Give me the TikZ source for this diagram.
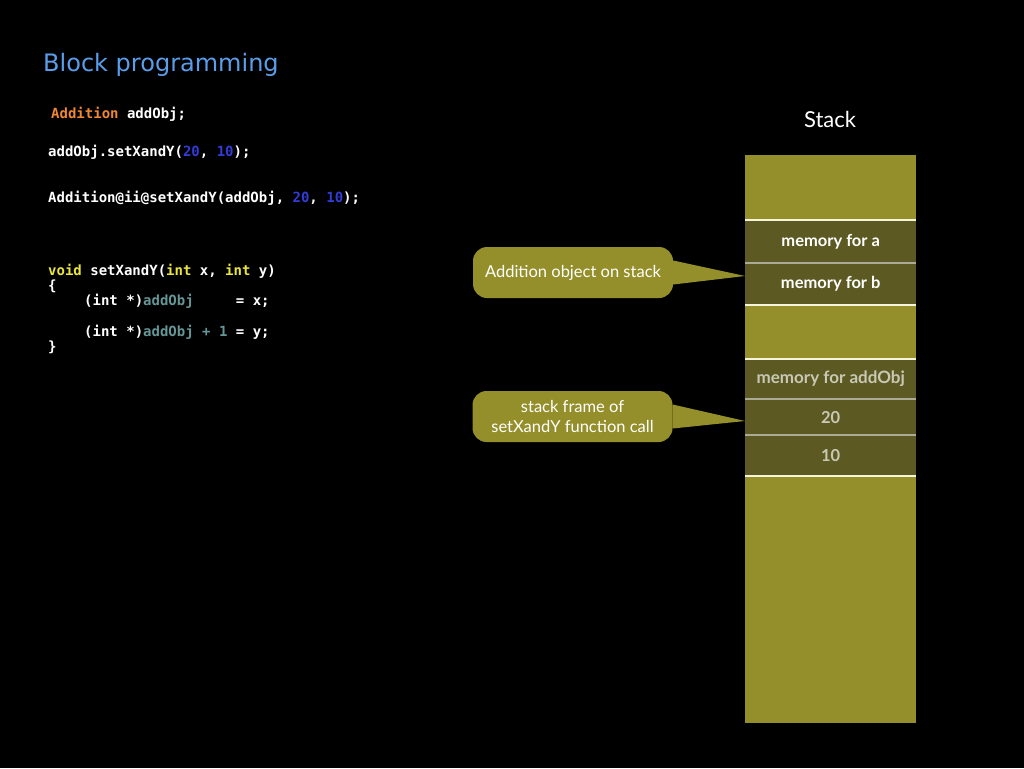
\documentclass[tikz,border=0pt]{standalone}
\usepackage{fontspec}
\setmainfont{Lato}
\newfontfamily\codefont{DejaVu Sans Mono}
\newfontfamily\titlefont{DejaVu Sans}
\definecolor{olive}{RGB}{148,143,42}
\definecolor{darkolive}{RGB}{92,90,34}
\definecolor{titleblue}{RGB}{90,158,235}
\definecolor{kworange}{RGB}{240,135,50}
\definecolor{numblue}{RGB}{50,60,215}
\definecolor{kwyellow}{RGB}{235,230,60}
\definecolor{varteal}{RGB}{100,150,150}
\definecolor{celltext}{RGB}{200,200,180}
\definecolor{sepgray}{RGB}{170,170,150}
\definecolor{sepwhite}{RGB}{245,245,220}
\tikzset{
  code/.style={anchor=base west, inner sep=0pt, text=white, font=\codefont\bfseries\fontsize{14}{14}\selectfont},
  cell/.style={fill=darkolive, minimum width=171pt, inner sep=0pt, anchor=north west, font=\bfseries\fontsize{16.5}{16.5}\selectfont, text=white},
  callout/.style={fill=olive, rounded corners=14pt, minimum width=200pt, minimum height=51pt, inner sep=0pt, align=center, text=white, font=\fontsize{16.5}{20}\selectfont},
  pointer/.style={fill=olive},
  sepw/.style={draw=sepwhite, line width=2pt},
  sepg/.style={draw=sepgray, line width=2pt}
}
\begin{document}
\begin{tikzpicture}[x=1pt,y=-1pt]
\fill[black] (0,0) rectangle (1024,768);
\useasboundingbox (0,0) rectangle (1024,768);

% title
\node[anchor=base west, inner sep=0pt, text=titleblue, font=\titlefont\fontsize{24}{24}\selectfont] (title) at (43,71) {Block programming};

% code
\node[code] (c1) at (51,118) {\textcolor{kworange}{Addition} addObj;};
\node[code] (c2) at (48,156) {addObj.setXandY(\textcolor{numblue}{20}, \textcolor{numblue}{10});};
\node[code] (c3) at (48,202) {Addition@ii@setXandY(addObj, \textcolor{numblue}{20}, \textcolor{numblue}{10});};
\node[code] (c4) at (48,275) {\textcolor{kwyellow}{void} setXandY(\textcolor{kwyellow}{int} x, \textcolor{kwyellow}{int} y)};
\node[code] (c5) at (48,290) {\{};
\node[code] (c6) at (84,305) {(int *)\textcolor{varteal}{addObj}\ \ \ \ \ = x;};
\node[code] (c7) at (84,336) {(int *)\textcolor{varteal}{addObj + 1} = y;};
\node[code] (c8) at (48,351) {\}};

% stack
\node[text=white, font=\fontsize{22}{22}\selectfont] (stacktitle) at (830,119) {Stack};
\fill[olive] (745,155) rectangle (916,723);
\node[cell, minimum height=43pt] (ma) at (745,220) {memory for a};
\node[cell, minimum height=42pt] (mb) at (745,263) {memory for b};
\node[cell, minimum height=40pt, font=\bfseries\fontsize{17}{17}\selectfont, text=celltext] (mo) at (745,359) {memory for addObj};
\node[cell, minimum height=36pt, text=celltext] (m20) at (745,399) {20};
\node[cell, minimum height=41pt, text=celltext] (m10) at (745,435) {10};
\draw[sepw] (ma.north west) -- (ma.north east);
\draw[sepg] (mb.north west) -- (mb.north east);
\draw[sepw] (mb.south west) -- (mb.south east);
\draw[sepw] (mo.north west) -- (mo.north east);
\draw[sepg] (m20.north west) -- (m20.north east);
\draw[sepg] (m10.north west) -- (m10.north east);
\draw[sepw] (m10.south west) -- (m10.south east);

% callouts
\coordinate (p1) at (745,276);
\coordinate (p2) at (745,421);
\node[callout] (k1) at (573,272.5) {Addition object on stack};
\node[callout] (k2) at (572.5,416.5) {stack frame of\\setXandY function call};
\fill[pointer] ([yshift=-12pt]k1.east) -- (p1) -- ([yshift=12pt]k1.east) -- cycle;
\fill[pointer] ([yshift=-12pt]k2.east) -- (p2) -- ([yshift=12pt]k2.east) -- cycle;
\end{tikzpicture}
\end{document}
